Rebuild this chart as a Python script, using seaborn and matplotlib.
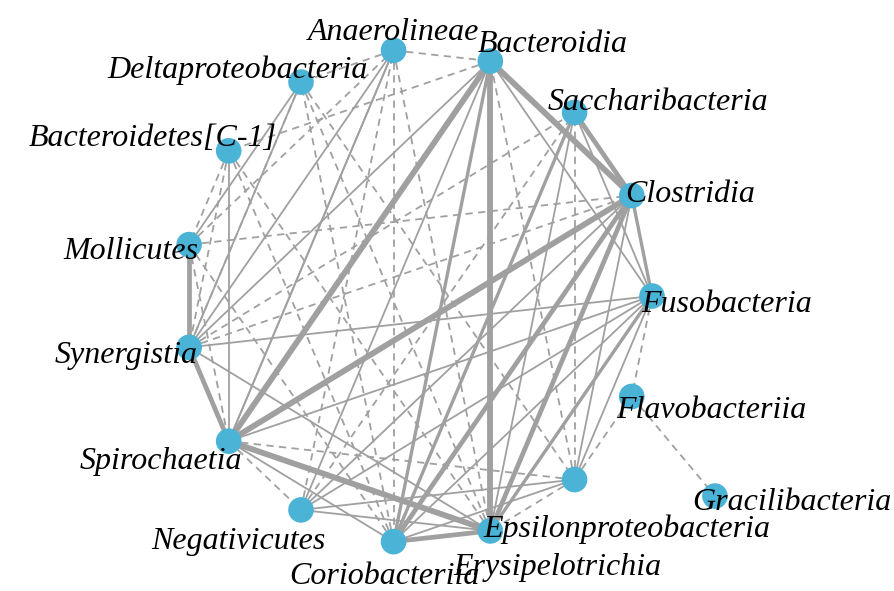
import numpy as np
import pandas as pd
import seaborn as sns
import matplotlib.pyplot as plt

# nos do circulo, na ordem do layout circular (sentido horario a partir de baixo)
ring_nodes = ['Coriobacteriia', 'Negativicutes', 'Spirochaetia', 'Synergistia',
              'Mollicutes', 'Bacteroidetes[C-1]', 'Deltaproteobacteria',
              'Anaerolineae', 'Bacteroidia', 'Saccharibacteria', 'Clostridia',
              'Fusobacteria', 'Flavobacteriia', 'Erysipelotrichia',
              'Epsilonproteobacteria']
outer_node = 'Gracilibacteria'

# arestas: origem, destino, peso (espessura), sinal (pos = continua, neg = tracejada)
edge_src = ['Bacteroidia', 'Bacteroidia', 'Bacteroidia', 'Clostridia', 'Spirochaetia',
            'Spirochaetia', 'Mollicutes', 'Clostridia', 'Clostridia', 'Coriobacteriia',
            'Saccharibacteria', 'Bacteroidia', 'Saccharibacteria', 'Saccharibacteria',
            'Bacteroidia', 'Bacteroidia', 'Clostridia', 'Clostridia', 'Clostridia',
            'Fusobacteria', 'Fusobacteria', 'Fusobacteria', 'Fusobacteria', 'Fusobacteria',
            'Spirochaetia', 'Spirochaetia', 'Spirochaetia', 'Synergistia', 'Synergistia',
            'Synergistia', 'Negativicutes', 'Negativicutes', 'Coriobacteriia',
            'Saccharibacteria', 'Deltaproteobacteria', 'Anaerolineae', 'Bacteroidia',
            'Fusobacteria',
            'Anaerolineae', 'Anaerolineae', 'Deltaproteobacteria', 'Deltaproteobacteria',
            'Bacteroidetes[C-1]', 'Bacteroidetes[C-1]', 'Bacteroidetes[C-1]',
            'Mollicutes', 'Mollicutes', 'Mollicutes', 'Synergistia', 'Synergistia',
            'Spirochaetia', 'Spirochaetia', 'Negativicutes', 'Coriobacteriia',
            'Coriobacteriia', 'Erysipelotrichia', 'Erysipelotrichia', 'Erysipelotrichia',
            'Erysipelotrichia', 'Fusobacteria', 'Flavobacteriia', 'Bacteroidia',
            'Anaerolineae', 'Anaerolineae', 'Deltaproteobacteria', 'Bacteroidetes[C-1]',
            'Negativicutes']
edge_dst = ['Spirochaetia', 'Epsilonproteobacteria', 'Clostridia', 'Spirochaetia',
            'Epsilonproteobacteria', 'Synergistia', 'Synergistia', 'Epsilonproteobacteria',
            'Coriobacteriia', 'Epsilonproteobacteria', 'Clostridia', 'Coriobacteriia',
            'Coriobacteriia', 'Fusobacteria', 'Fusobacteria', 'Synergistia',
            'Erysipelotrichia', 'Negativicutes', 'Fusobacteria', 'Spirochaetia',
            'Negativicutes', 'Epsilonproteobacteria', 'Erysipelotrichia', 'Coriobacteriia',
            'Bacteroidetes[C-1]', 'Coriobacteriia', 'Anaerolineae', 'Anaerolineae',
            'Deltaproteobacteria', 'Epsilonproteobacteria', 'Erysipelotrichia',
            'Epsilonproteobacteria', 'Erysipelotrichia', 'Epsilonproteobacteria',
            'Mollicutes', 'Spirochaetia', 'Negativicutes', 'Synergistia',
            'Bacteroidia', 'Deltaproteobacteria', 'Synergistia', 'Epsilonproteobacteria',
            'Mollicutes', 'Synergistia', 'Epsilonproteobacteria',
            'Spirochaetia', 'Anaerolineae', 'Clostridia', 'Clostridia', 'Saccharibacteria',
            'Erysipelotrichia', 'Negativicutes', 'Anaerolineae', 'Mollicutes',
            'Deltaproteobacteria', 'Saccharibacteria', 'Bacteroidia', 'Flavobacteriia',
            'Epsilonproteobacteria', 'Flavobacteriia', 'Gracilibacteria', 'Bacteroidetes[C-1]',
            'Coriobacteriia', 'Epsilonproteobacteria', 'Erysipelotrichia', 'Coriobacteriia',
            'Saccharibacteria']
edge_weight = [4, 4, 4, 4, 4, 3, 3, 3, 3, 3, 3, 2, 2, 1, 1, 1, 1, 1, 2, 1, 1, 2, 1, 1,
               1, 1, 1, 1, 1, 1, 1, 1, 1, 1, 1, 1, 1, 1,
               1, 1, 1, 1, 1, 1, 1, 1, 1, 1, 1, 1, 1, 1, 1, 1, 1, 1, 1, 1, 1, 1, 1, 1,
               1, 1, 1, 1, 1]
edge_sign = ['pos'] * 38 + ['neg'] * 29

# layout circular (leve elipse como no original)
angles = np.deg2rad(-174 + 24 * np.arange(len(ring_nodes)))
pos = {n: (np.sin(a), np.cos(a)) for n, a in zip(ring_nodes, angles)}
pos[outer_node] = (1.269, -0.81)

nodes = pd.DataFrame({'node': list(pos.keys()),
                      'x': [p[0] for p in pos.values()],
                      'y': [p[1] for p in pos.values()]})

sns.set_style('white')
fig = plt.figure(figsize=(8.95, 5.91), dpi=100)
ax = fig.add_axes([0, 0, 1, 1])

edge_color = '#a0a0a0'
width_map = {1: 1.3, 2: 2.4, 3: 3.4, 4: 4.2}
for s, d, w, sign in zip(edge_src, edge_dst, edge_weight, edge_sign):
    x0, y0 = pos[s]
    x1, y1 = pos[d]
    if sign == 'pos':
        ax.plot([x0, x1], [y0, y1], color=edge_color, lw=width_map[w],
                solid_capstyle='butt', zorder=1)
    else:
        ax.plot([x0, x1], [y0, y1], color=edge_color, lw=1.3,
                linestyle=(0, (4, 3)), zorder=1)

sns.scatterplot(data=nodes, x='x', y='y', s=340, color='#4ab3d6',
                edgecolor='none', ax=ax, zorder=3, legend=False)

ax.set_xlim(-418 / 234, (895 - 418) / 234)
ax.set_ylim((296 - 591) / 247, 296 / 247)
ax.axis('off')

# posicao dos rotulos em pixels (centro do texto)
label_px = {
    'Anaerolineae': (393, 32), 'Bacteroidia': (553, 45),
    'Saccharibacteria': (658, 103), 'Clostridia': (690, 194),
    'Fusobacteria': (727, 305), 'Flavobacteriia': (711, 410),
    'Gracilibacteria': (792, 502), 'Epsilonproteobacteria': (627, 529),
    'Erysipelotrichia': (557, 567), 'Coriobacteriia': (384, 577),
    'Negativicutes': (238, 542), 'Spirochaetia': (161, 462),
    'Synergistia': (126, 356), 'Mollicutes': (131, 252),
    'Bacteroidetes[C-1]': (153, 138), 'Deltaproteobacteria': (238, 70),
}
for name, (px, py) in label_px.items():
    fig.text(px / 895, 1 - py / 591, name, ha='center', va='center',
             fontsize=23, fontstyle='italic', family='Liberation Serif',
             color='black', zorder=5)

plt.savefig('out.png', dpi=100)
